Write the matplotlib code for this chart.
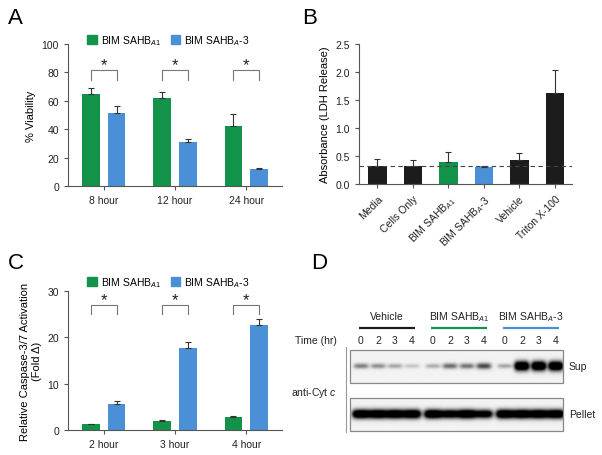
import numpy as np
import matplotlib
matplotlib.use('Agg')
import matplotlib.pyplot as plt
from matplotlib.patches import Patch, Rectangle

plt.rcParams['font.family'] = ['Liberation Sans', 'DejaVu Sans']
plt.rcParams['mathtext.fontset'] = 'custom'
plt.rcParams['mathtext.rm'] = 'Liberation Sans'
plt.rcParams['mathtext.it'] = 'Liberation Sans:italic'
plt.rcParams['font.size'] = 7

# --- data ---
lbl_a1 = r'BIM SAHB$_{\it{A1}}$'
lbl_a3 = r'BIM SAHB$_{\it{A}}$-3'

a_groups   = ['8 hour', '12 hour', '24 hour']
a_green    = [65, 62, 42]
a_green_er = [4, 4, 9]
a_blue     = [51.5, 31, 12]
a_blue_er  = [4.5, 2, 1]

b_labels = ['Media', 'Cells Only', lbl_a1, lbl_a3, 'Vehicle', 'Triton X-100']
b_values = [0.33, 0.32, 0.39, 0.31, 0.43, 1.62]
b_err    = [0.11, 0.11, 0.18, 0.02, 0.13, 0.41]
b_base   = 0.32

c_groups   = ['2 hour', '3 hour', '4 hour']
c_green    = [1.2, 1.9, 2.7]
c_green_er = [0.2, 0.3, 0.3]
c_blue     = [5.7, 17.8, 22.7]
c_blue_er  = [0.6, 1.1, 1.2]

d_groups = ['Vehicle', lbl_a1, lbl_a3]
d_times  = ['0', '2', '3', '4']
d_sup    = [[0.30, 0.26, 0.20, 0.12],
            [0.18, 0.35, 0.33, 0.45],
            [0.20, 1.00, 1.00, 1.00]]
d_pellet = [[1.0, 1.0, 1.0, 1.0],
            [1.0, 0.9, 1.0, 0.85],
            [1.0, 1.0, 1.0, 1.0]]

green = '#13924a'
blue = '#4b90d6'
black = '#1c1c1c'
axis_col = '#555555'
txt_col = '#222222'

W, H = 602, 456
fig = plt.figure(figsize=(W / 100, H / 100), dpi=100)


def px_axes(l, t, r, b):
    return fig.add_axes([l / W, 1 - b / H, (r - l) / W, (b - t) / H])


def style(ax):
    for s in ['top', 'right']:
        ax.spines[s].set_visible(False)
    for s in ['left', 'bottom']:
        ax.spines[s].set_color(axis_col)
        ax.spines[s].set_linewidth(0.8)
    ax.tick_params(colors=axis_col, labelcolor=txt_col, length=3, width=0.8, labelsize=7.5)


def grouped(ax, groups, gv, ge, bv, be, ymax, ylabel, sig_top, sig_low, yticks):
    x = np.arange(len(groups))
    off, w = 0.18, 0.25
    ekw = dict(elinewidth=0.8, capthick=0.8, ecolor='#333333')
    ax.bar(x - off, gv, w, color=green, yerr=[np.zeros(len(ge)), ge], capsize=2.5, error_kw=ekw)
    ax.bar(x + off, bv, w, color=blue, yerr=[np.zeros(len(be)), be], capsize=2.5, error_kw=ekw)
    for xi in x:
        ax.plot([xi - off, xi - off, xi + off, xi + off], [sig_low, sig_top, sig_top, sig_low],
                color='#777777', lw=0.8)
        ax.annotate('*', (xi, sig_top), xytext=(0, -1.5), textcoords='offset points',
                    ha='center', va='bottom', fontsize=12, color=txt_col)
    ax.set_xlim(-0.5, 2.5)
    ax.set_ylim(0, ymax)
    ax.set_yticks(yticks)
    ax.set_xticks(x)
    ax.set_xticklabels(groups)
    ax.set_ylabel(ylabel, fontsize=8)
    style(ax)
    return [Patch(color=green, label=lbl_a1), Patch(color=blue, label=lbl_a3)]


def top_legend(ax, handles, yc):
    ax.legend(handles=handles, loc='center', bbox_to_anchor=(0.47, yc), ncol=2, frameon=False,
              handlelength=0.9, handleheight=0.9, handletextpad=0.4, columnspacing=0.9,
              fontsize=7.5, borderpad=0)


# --- A ---
axA = px_axes(68, 45, 282, 187)
h = grouped(axA, a_groups, a_green, a_green_er, a_blue, a_blue_er, 100, '% Viability',
            82, 75, [0, 20, 40, 60, 80, 100])
top_legend(axA, h, 1 + 4 / 142)

# --- B ---
axB = px_axes(359, 45, 572, 185)
xb = np.arange(len(b_labels))
b_cols = [black, black, green, blue, black, black]
axB.bar(xb, b_values, 0.52, color=b_cols, yerr=[np.zeros(len(b_err)), b_err], capsize=2.5,
        error_kw=dict(elinewidth=0.8, capthick=0.8, ecolor='#333333'))
axB.axhline(b_base, color='#444444', lw=0.8, ls=(0, (4, 3)))
axB.set_xlim(-0.52, 5.48)
axB.set_ylim(0, 2.5)
axB.set_yticks([0, 0.5, 1.0, 1.5, 2.0, 2.5])
axB.set_yticklabels(['0.0', '0.5', '1.0', '1.5', '2.0', '2.5'])
axB.set_xticks(xb)
axB.set_xticklabels(b_labels, rotation=45, ha='right', rotation_mode='anchor')
axB.set_ylabel('Absorbance (LDH Release)', fontsize=8)
style(axB)

# --- C ---
axC = px_axes(68, 292, 282, 431)
h = grouped(axC, c_groups, c_green, c_green_er, c_blue, c_blue_er, 30,
            'Relative Caspase-3/7 Activation\n(Fold \u0394)', 27, 25, [0, 10, 20, 30])
top_legend(axC, h, 1 + 9 / 139)

# --- D (drawn in pixel coordinates) ---
axD = px_axes(290, 240, 602, 456)
axD.axis('off')

lane_x = np.array([[361 + g * 72 + i * 17 for i in range(4)] for g in range(3)])
line_cols = [black, green, blue]
for g, name in enumerate(d_groups):
    x0, x1 = lane_x[g, 0] - 2, lane_x[g, -1] + 3
    axD.text((x0 + x1) / 2, 317, name, ha='center', va='center', fontsize=7.5, color=txt_col)
    axD.plot([x0, x1], [329, 329], color=line_cols[g], lw=1.6, solid_capstyle='butt')
    for i, t in enumerate(d_times):
        axD.text(lane_x[g, i], 341, t, ha='center', va='center', fontsize=7.5, color=txt_col)
axD.text(337, 341, 'Time (hr)', ha='right', va='center', fontsize=7.5, color=txt_col)
axD.text(337, 393, r'anti-Cyt $\it{c}$', ha='right', va='center', fontsize=7.5, color=txt_col)
axD.plot([346, 346], [348, 433], color='#999999', lw=0.8)


def blot(amps, top, bottom, yc, sx, sy0, sy1):
    xs = np.arange(350, 563.01, 0.5)
    ys = np.arange(top, bottom + 0.01, 0.5)
    X, Y = np.meshgrid(xs, ys)
    dark = np.zeros_like(X)
    for g in range(3):
        for i in range(4):
            a = amps[g][i]
            sy = sy0 + sy1 * a
            dark += 1.6 * a * np.exp(-(np.abs(X - lane_x[g, i]) / sx) ** 4 - ((Y - yc) / sy) ** 2)
    img = 0.95 * (1 - np.clip(dark, 0, 1))
    axD.imshow(img, cmap='gray', vmin=0, vmax=1, extent=(350, 563, bottom, top),
               aspect='auto', interpolation='bilinear')
    axD.add_patch(Rectangle((350, top), 213, bottom - top, fill=False, ec='#888888', lw=0.9))


blot(d_sup, 351, 384, 367, 7.5, 1.8, 3.0)
blot(d_pellet, 399, 432, 415, 9.0, 3.0, 1.5)
axD.set_xlim(290, 602)
axD.set_ylim(456, 240)
axD.text(569, 367, 'Sup', ha='left', va='center', fontsize=7.5, color=txt_col)
axD.text(569, 415, 'Pellet', ha='left', va='center', fontsize=7.5, color=txt_col)

# panel letters
for lbl, px, py in [('A', 8, 8), ('B', 302, 8), ('C', 8, 253), ('D', 311, 253)]:
    fig.text(px / W, 1 - py / H, lbl, fontsize=16, ha='left', va='top')

fig.savefig('out.png', dpi=100)
